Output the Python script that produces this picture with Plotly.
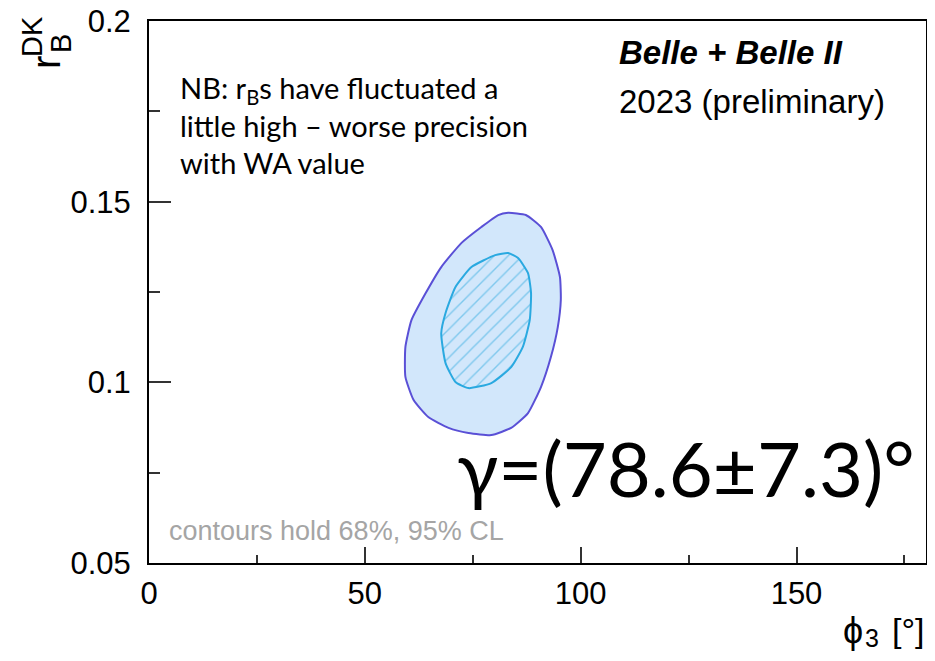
import plotly.graph_objects as go

# 95% CL contour (outer)
outer_phi3 = [83.2, 87.3, 90.8, 93.5, 95.2, 95.4, 94.7, 93.1, 90.8, 87.8, 83.9, 79.3,
              74.0, 69.4, 64.7, 61.3, 59.4, 59.4, 60.8, 64.1, 67.7, 72.4, 77.0, 80.9, 83.2]
outer_rb = [0.1469, 0.1463, 0.1430, 0.1366, 0.1291, 0.1228, 0.1153, 0.1070, 0.0987, 0.0915,
            0.0874, 0.0854, 0.0860, 0.0874, 0.0904, 0.0951, 0.1015, 0.1098, 0.1172, 0.1247,
            0.1319, 0.1386, 0.1430, 0.1463, 0.1469]

# 68% CL contour (inner)
inner_phi3 = [83.2, 85.5, 87.8, 88.5, 88.2, 86.6, 83.9, 79.3, 74.0, 71.0, 68.7, 67.7,
              68.7, 71.0, 74.7, 80.2, 83.2]
inner_rb = [0.1358, 0.1344, 0.1302, 0.1247, 0.1172, 0.1098, 0.1042, 0.0998, 0.0984, 0.1001,
            0.1053, 0.1136, 0.1192, 0.1264, 0.1319, 0.1352, 0.1358]

x_ticks = [0, 50, 100, 150]
y_ticks = [0.05, 0.1, 0.15, 0.2]
y_ticklabels = ["0.05", "0.1", "0.15", "0.2"]

# page has an 8px body margin; compensate so the screenshot matches
OFF = 8
W, H = 935 - 2 * OFF, 661 - 2 * OFF
L, R, T, B = 149, 926, 21, 563  # target screen pixels of the plot frame


def px(x):
    return (x - L) / (R - L)


def py(y):
    return (B - y) / (B - T)


fig = go.Figure()
fig.add_trace(go.Scatter(
    x=outer_phi3, y=outer_rb, mode="lines", fill="toself",
    fillcolor="#d2e7fb", line=dict(color="#5a50d6", width=2, shape="spline", smoothing=0.5),
    hoverinfo="skip", showlegend=False))
fig.add_trace(go.Scatter(
    x=inner_phi3, y=inner_rb, mode="lines", fill="toself",
    fillcolor="#d2e7fb",
    fillpattern=dict(shape="/", fgcolor="#2aa9e0", bgcolor="#d2e7fb", size=10, solidity=0.14),
    line=dict(color="#2aa9e0", width=2, shape="spline", smoothing=0.5),
    hoverinfo="skip", showlegend=False))

axis_font = dict(family="Liberation Sans, Arial", size=31, color="black")
fig.update_xaxes(range=[0, 180], tickvals=x_ticks, ticks="inside", ticklen=16, tickwidth=1.5,
                 tickcolor="#333", showline=True, linecolor="black", linewidth=2, mirror=True,
                 showgrid=False, zeroline=False, tickfont=axis_font, ticklabelstandoff=2,
                 ticklabeloverflow="allow", automargin=False,
                 minor=dict(dtick=25, tick0=0, ticks="inside", ticklen=8, tickwidth=1.5, tickcolor="#333"))
fig.update_yaxes(range=[0.05, 0.2], tickvals=y_ticks, ticktext=y_ticklabels, ticks="inside",
                 ticklen=22, tickwidth=1.5, tickcolor="#333", showline=True, linecolor="black",
                 linewidth=2, mirror=True, showgrid=False, zeroline=False, tickfont=axis_font,
                 ticklabelstandoff=10, ticklabeloverflow="allow", automargin=False,
                 minor=dict(dtick=0.025, tick0=0.05, ticks="inside", ticklen=11, tickwidth=1.5, tickcolor="#333"))

ann = []
# y axis title: r_B^DK rotated
ann.append(dict(x=px(46), y=py(63), text="r", textangle=-90, font=dict(family="Liberation Sans, Arial", size=40, color="black")))
ann.append(dict(x=px(61), y=py(44), text="B", textangle=-90, font=dict(family="Liberation Sans, Arial", size=29, color="black")))
ann.append(dict(x=px(32), y=py(37), text="DK", textangle=-90, font=dict(family="Liberation Sans, Arial", size=29, color="black")))
# x axis title: phi_3 [deg]
ann.append(dict(x=px(853), y=py(630), text="ϕ", font=dict(family="Liberation Sans, Arial", size=36, color="black")))
ann.append(dict(x=px(872), y=py(638), text="3", font=dict(family="Liberation Sans, Arial", size=25, color="black")))
ann.append(dict(x=px(927), y=py(630), text="[°]", xanchor="right", font=dict(family="Liberation Sans, Arial", size=34, color="black")))
# experiment labels
ann.append(dict(x=px(617), y=py(52), text="<b><i>Belle + Belle II</i></b>", xanchor="left", yanchor="middle",
                font=dict(family="Liberation Sans, Arial", size=33, color="black")))
ann.append(dict(x=px(617), y=py(101), text="2023 (preliminary)", xanchor="left", yanchor="middle",
                font=dict(family="Liberation Sans, Arial", size=33, color="black")))
# NB note
ann.append(dict(x=px(178), y=py(68), text="NB: r<sub>B</sub>s have fluctuated a<br>little high – worse precision<br>with WA value",
                xanchor="left", yanchor="top", align="left",
                font=dict(family="Lato, Noto Sans", size=29, color="black")))
# gamma result
ann.append(dict(x=px(455), y=py(467), text="γ=(78.6±7.3)°", xanchor="left", yanchor="middle",
                font=dict(family="Lato, Noto Sans", size=76, color="black")))
# CL note
ann.append(dict(x=px(167), y=py(531), text="contours hold 68%, 95% CL", xanchor="left", yanchor="middle",
                font=dict(family="Liberation Sans, Arial", size=27, color="#a5a5a5")))

for a in ann:
    a.setdefault("xref", "paper")
    a.setdefault("yref", "paper")
    a.setdefault("showarrow", False)
    a.setdefault("xanchor", "center")
    a.setdefault("yanchor", "middle")

fig.update_layout(width=W, height=H,
                  margin=dict(l=L - OFF, r=max(0, (W + OFF) - R), t=T - OFF, b=(H + OFF) - B, pad=0),
                  plot_bgcolor="white", paper_bgcolor="white", annotations=ann,
                  showlegend=False)

fig.write_html("out.html")
